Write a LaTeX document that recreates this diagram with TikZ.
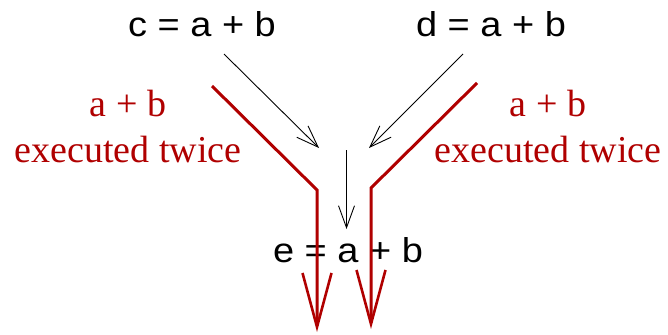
\documentclass[tikz,border=0pt]{standalone}
\usepackage{fontspec}
\setmainfont{Liberation Serif}
\setsansfont{Liberation Sans}
\usetikzlibrary{arrows.meta}
\definecolor{dred}{RGB}{176,0,0}
\newcommand{\wide}[1]{\scalebox{1.1}[1]{#1}}
\begin{document}
\begin{tikzpicture}[x=1pt,y=-1pt,
  eq/.style={font=\sffamily\fontsize{34.5}{40}\selectfont, anchor=base, inner sep=0pt},
  lbl/.style={font=\fontsize{38}{46}\selectfont, text=dred, align=center, inner sep=0pt},
  blk/.style={line width=0.9pt, -{Straight Barb[length=22pt,width=16pt,line width=0.9pt]}},
  redarr/.style={draw=dred, line width=3pt, -{Straight Barb[length=54pt,width=29pt,line width=2.6pt]}}]
\useasboundingbox (0,0) rectangle (668,334);
\node[eq] (c) at (202,37) {\wide{c = a + b}};
\node[eq] (d) at (491,37) {\wide{d = a + b}};
\node[eq] (e) at (348,262) {\wide{e = a + b}};
\node[lbl, anchor=base] (l1) at (128,117) {a + b};
\node[lbl, anchor=base] (l2) at (128,162) {executed twice};
\node[lbl, anchor=base] (r1) at (548,117) {a + b};
\node[lbl, anchor=base] (r2) at (548,162) {executed twice};
\coordinate (cs) at (224,54);
\coordinate (ct) at (319,148);
\coordinate (ds) at (463,54);
\coordinate (dt) at (369,148);
\coordinate (es) at (346.5,150);
\coordinate (et) at (346.5,229);
\draw[blk] (cs) -- (ct);
\draw[blk] (ds) -- (dt);
\draw[blk] (es) -- (et);
\coordinate (la) at (212,86);
\coordinate (lb) at (317,190);
\coordinate (lc) at (317,332);
\coordinate (ra) at (477,83);
\coordinate (rb) at (371,188);
\coordinate (rc) at (371,329);
\draw[redarr] (la) -- (lb) -- (lc);
\draw[redarr] (ra) -- (rb) -- (rc);
\end{tikzpicture}
\end{document}
